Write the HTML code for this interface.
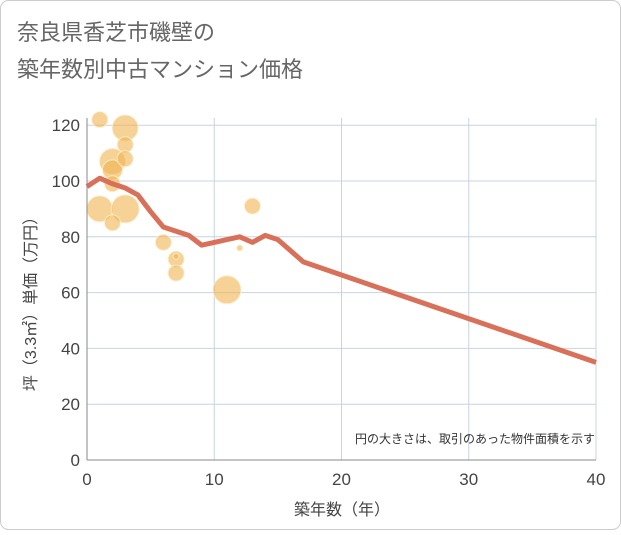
<!DOCTYPE html>
<html><head><meta charset="utf-8"><style>
body{margin:0;background:#fff;font-family:"Liberation Sans","Noto Sans CJK JP",sans-serif}
#c{position:relative;width:621px;height:530px}
</style></head><body>
<div id="c">
<svg id="s" width="621" height="530">
<rect x="0.5" y="0.5" width="620" height="529" rx="8" fill="#fff" stroke="#ccc"/>
<text x="17" y="40" font-size="22" fill="#666">奈良県香芝市磯壁の</text>
<text x="17" y="77" font-size="22" fill="#666">築年数別中古マンション価格</text>
<g id="grid"></g><g id="bub"></g><g id="ln"></g><g id="ax"></g>
<text x="595" y="443" font-size="12" fill="#333" text-anchor="end">円の大きさは、取引のあった物件面積を示す</text>
<text x="342" y="515" font-size="16" fill="#444" text-anchor="middle">築年数（年）</text>
<text transform="translate(36,300) rotate(-90)" font-size="16" fill="#444" text-anchor="middle">坪（3.3㎡）単価（万円）</text>
</svg></div>
<script>
const xTicks=[0,10,20,30,40];
const yTicks=[0,20,40,60,80,100,120];
const bubX=[1,3,3,2,2,3,2,1,3,2,6,7,7,7,11,12,13];
const bubY=[122,119,113,107,104,108,99,90,90,85,78,72,73,67,61,76,91];
const bubR=[8,13,8,13,10,8,8,13,14,8,8,8,3,8,14,3,8];
const lineX=[0,1,2,3,4,5,6,7,8,9,10,11,12,13,14,15,17,40];
const lineY=[98,101,99,97.5,95,89,83.5,82,80.5,77,78,79,80,78,80.5,79,71,35];
const X=v=>87+v*12.725, Y=v=>460-v*2.79;
const NS="http://www.w3.org/2000/svg";
function mk(t,a,p){const e=document.createElementNS(NS,t);for(const k in a)e.setAttribute(k,a[k]);p.appendChild(e);return e;}
const g=document.getElementById('grid'),ax=document.getElementById('ax');
xTicks.forEach(t=>{const l=mk('line',{x1:X(t),x2:X(t),y1:118,y2:460,stroke:'#c8d4e0'},g);

const tx=mk('text',{x:X(t),y:485,'font-size':17,fill:'#444','text-anchor':'middle'},ax);tx.textContent=t;
});
yTicks.forEach(t=>{const l=mk('line',{x1:87,x2:596,y1:Y(t),y2:Y(t),stroke:'#c8d4e0'},g);

const tx=mk('text',{x:80,y:Y(t)+6,'font-size':17,fill:'#444','text-anchor':'end'},ax);tx.textContent=t;
});
const a1=mk('line',{x1:87,x2:87,y1:118,y2:460,stroke:'#888'},ax);

const a2=mk('line',{x1:87,x2:596,y1:460,y2:460,stroke:'#888'},ax);

const b=document.getElementById('bub');
bubX.forEach((v,i)=>{const c=mk('circle',{cx:X(v),cy:Y(bubY[i]),r:bubR[i],fill:'rgba(240,180,80,0.6)',stroke:'rgba(255,240,210,0.8)','stroke-width':1},b);
});
const p=mk('polyline',{points:lineX.map((v,i)=>X(v)+','+Y(lineY[i])).join(' '),fill:'none',stroke:'#d9705a','stroke-width':5,'stroke-linejoin':'round'},document.getElementById('ln'));

</script></body></html>
